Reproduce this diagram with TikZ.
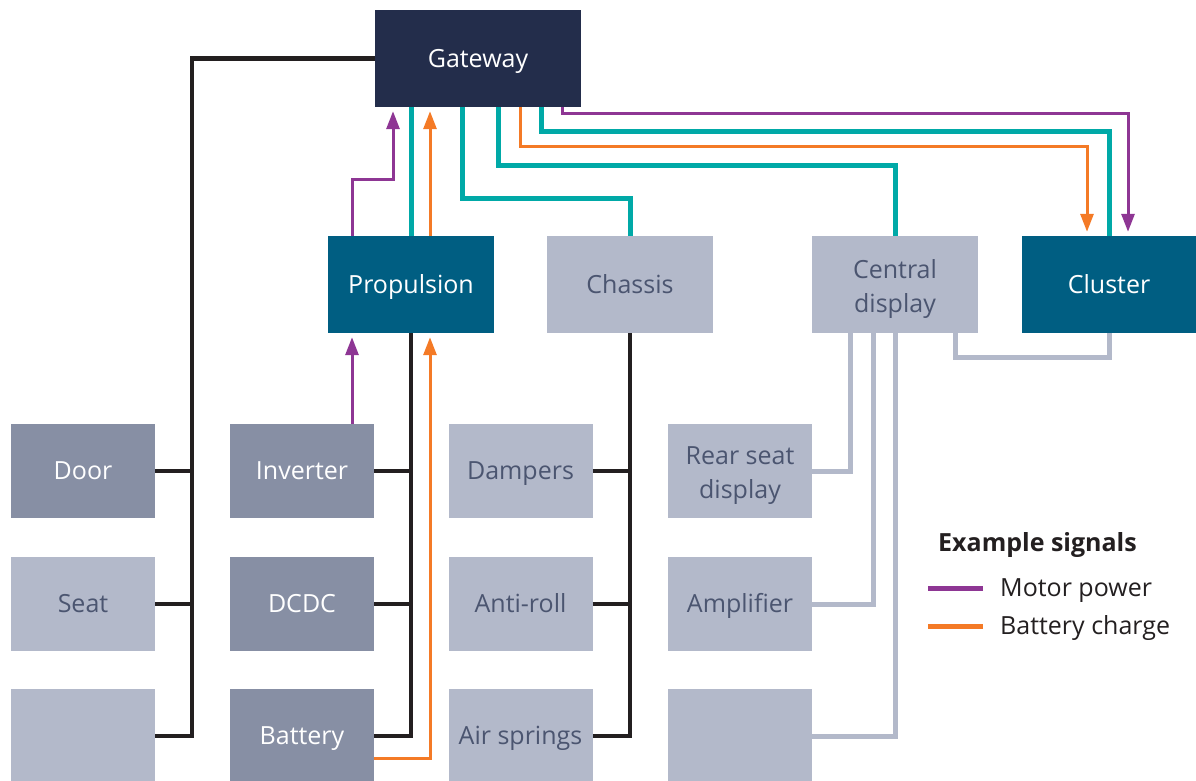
\documentclass[tikz,border=0pt]{standalone}
\usepackage{fontspec}
\setmainfont{Open Sans}
\usetikzlibrary{arrows.meta}

\definecolor{gwnavy}{RGB}{35,45,75}
\definecolor{unitblue}{RGB}{0,94,130}
\definecolor{boxdark}{RGB}{135,143,164}
\definecolor{boxlight}{RGB}{179,185,202}
\definecolor{textgrey}{RGB}{75,85,112}
\definecolor{busblack}{RGB}{35,31,32}
\definecolor{linkteal}{RGB}{0,169,167}
\definecolor{chargeorange}{RGB}{244,122,38}
\definecolor{motorpurple}{RGB}{142,54,148}

\tikzset{
  box/.style={minimum width=144pt, minimum height=94pt, inner sep=0pt, align=center,
    text height=17.8pt, text depth=0pt, font=\fontsize{25}{34}\selectfont},
  twoline/.style={text height=55pt, text depth=0pt},
  topbox/.style={box, minimum width=166pt, minimum height=97pt},
  lightbox/.style={fill=boxlight, text=textgrey},
  darkbox/.style={fill=boxdark, text=white},
  bluebox/.style={fill=unitblue, text=white},
  bus/.style={line width=4.5pt, draw=busblack},
  tealbus/.style={line width=5pt, draw=linkteal},
  greybus/.style={line width=5pt, draw=boxlight},
  motor/.style={line width=3pt, draw=motorpurple},
  charge/.style={line width=3pt, draw=chargeorange},
  sig/.style={-{Triangle[length=18pt,width=13pt]}, shorten >=4pt},
  legtext/.style={anchor=west, inner sep=0pt, text=busblack, text height=17.8pt, text depth=0pt,
    font=\fontsize{25}{30}\selectfont}
}

\begin{document}
\begin{tikzpicture}[x=1pt,y=-1pt]
\useasboundingbox (0,0) rectangle (1196,781);

\node[topbox, fill=gwnavy, text=white, minimum width=206pt] (gw) at (478,58.5) {Gateway};
\node[topbox,bluebox] (prop) at (411,284.5) {Propulsion};
\node[topbox,lightbox] (chas) at (630,284.5) {Chassis};
\node[topbox,lightbox,twoline] (cdisp) at (895,284.5) {Central\\display};
\node[topbox,bluebox,minimum width=174pt] (clus) at (1109,284.5) {Cluster};

\node[box,darkbox] (door) at (83,471) {Door};
\node[box,lightbox] (seat) at (83,604) {Seat};
\node[box,lightbox] (misc) at (83,736) {};
\node[box,darkbox] (inv) at (302,471) {Inverter};
\node[box,darkbox] (dcdc) at (302,604) {DCDC};
\node[box,darkbox] (batt) at (302,736) {Battery};
\node[box,lightbox] (damp) at (520.5,471) {Dampers};
\node[box,lightbox] (anti) at (520.5,604) {Anti-roll};
\node[box,lightbox] (air) at (520.5,736) {Air springs};
\node[box,lightbox,twoline] (rear) at (740,471) {Rear seat\\display};
\node[box,lightbox] (amp) at (740,604) {Amplifier};
\node[box,lightbox] (spare) at (740,736) {};

% wired buses
\coordinate (lbus) at (192,0);
\draw[bus] (gw.west) -| (lbus |- misc.east) -- (misc.east);
\draw[bus] (door.east) -- (door.east -| lbus);
\draw[bus] (seat.east) -- (seat.east -| lbus);
\draw[bus] (prop.south) |- (batt.east);
\draw[bus] (inv.east) -- (inv.east -| prop.south);
\draw[bus] (dcdc.east) -- (dcdc.east -| prop.south);
\draw[bus] (chas.south) |- (air.east);
\draw[bus] (damp.east) -- (damp.east -| chas.south);
\draw[bus] (anti.east) -- (anti.east -| chas.south);

% backbone links
\draw[tealbus] (gw.south -| prop.north) -- (prop.north);
\draw[tealbus] ([xshift=-16pt]gw.south) |- ([yshift=37pt]chas.north) -- (chas.north);
\draw[tealbus] ([xshift=20pt]gw.south) |- ([yshift=70pt]cdisp.north) -- (cdisp.north);
\draw[tealbus] ([xshift=63pt]gw.south) |- ([yshift=104pt]clus.north) -- (clus.north);

% display links
\draw[greybus] (rear.east) -| ([xshift=-45pt]cdisp.south);
\draw[greybus] (amp.east) -| ([xshift=-22pt]cdisp.south);
\draw[greybus] (spare.east) -| (cdisp.south);
\draw[greybus] ([xshift=60pt]cdisp.south) |- ([yshift=-24pt]clus.south) -- (clus.south);

% signals
\draw[motor,sig] ([xshift=50pt]inv.north) -- ([xshift=-59pt]prop.south);
\draw[motor,sig] ([xshift=-59pt]prop.north) |- ([xshift=-85pt,yshift=-72pt]gw.south) -- ([xshift=-85pt]gw.south);
\draw[motor,sig] ([xshift=84pt]gw.south) |- ([xshift=19pt,yshift=122pt]clus.north) -- ([xshift=19pt]clus.north);
\draw[charge,sig] ([yshift=-22pt]batt.east) -| ([xshift=19pt]prop.south);
\draw[charge,sig] ([xshift=19pt]prop.north) -- ([xshift=-48pt]gw.south);
\draw[charge,sig] ([xshift=42pt]gw.south) |- ([xshift=-22pt,yshift=89pt]clus.north) -- ([xshift=-22pt]clus.north);

% legend
\node[legtext, font=\fontsize{25}{30}\selectfont\bfseries] (legtitle) at (938,543) {Example signals};
\node[legtext] (motortxt) at (1000,588) {Motor power};
\node[legtext] (chargetxt) at (1000,626) {Battery charge};
\draw[motor, line width=5pt] ([xshift=-17pt]motortxt.west) -- ++(-55,0);
\draw[charge, line width=5pt] ([xshift=-17pt]chargetxt.west) -- ++(-55,0);
\end{tikzpicture}
\end{document}
